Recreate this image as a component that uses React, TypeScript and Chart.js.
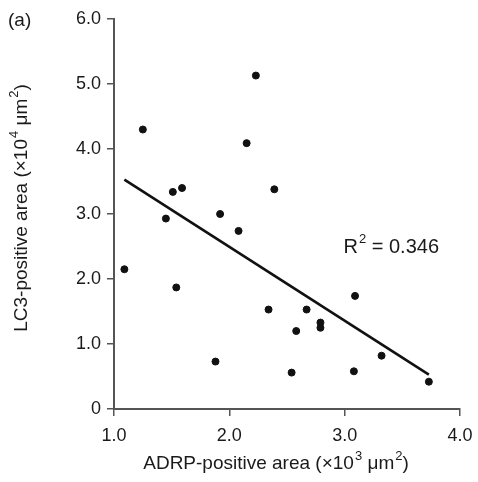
import React, { useEffect, useRef } from "react";
import { Chart, registerables } from "chart.js";

Chart.register(...registerables);

// ADRP-positive area (x10^3 µm²) vs LC3-positive area (x10^4 µm²)
const adrp = [1.09, 1.25, 1.45, 1.51, 1.59, 1.54, 1.88, 1.92, 2.08, 2.15, 2.23, 2.39, 2.34, 2.54, 2.58, 2.67, 2.79, 2.79, 3.08, 3.09, 3.32, 3.73];
const lc3 = [2.15, 4.30, 2.93, 3.34, 3.40, 1.87, 0.73, 3.00, 2.74, 4.09, 5.13, 3.38, 1.53, 0.56, 1.20, 1.53, 1.33, 1.25, 0.58, 1.74, 0.82, 0.42];

// regression line endpoints
const fitX = [1.09, 3.73];
const fitY = [3.53, 0.53];

const xTicks = [1.0, 2.0, 3.0, 4.0];
const yTicks = [0, 1.0, 2.0, 3.0, 4.0, 5.0, 6.0];
const r2Label = "0.346";
const panelLabel = "(a)";
const xTitle = [
  { t: "ADRP-positive area (×10", sup: false },
  { t: "3", sup: true },
  { t: " μm", sup: false },
  { t: "2", sup: true },
  { t: ")", sup: false },
];
const yTitle = [
  { t: "LC3-positive area (×10", sup: false },
  { t: "4", sup: true },
  { t: " μm", sup: false },
  { t: "2", sup: true },
  { t: ")", sup: false },
];

const FONT = "'Liberation Sans', Arial, sans-serif";

type Seg = { t: string; sup: boolean };

function richWidth(ctx: CanvasRenderingContext2D, segs: Seg[], base: number, sup: number) {
  let w = 0;
  for (const s of segs) {
    ctx.font = `${s.sup ? sup : base}px ${FONT}`;
    w += ctx.measureText(s.t).width + (s.sup ? 1 : 0);
  }
  return w;
}

function drawRich(ctx: CanvasRenderingContext2D, segs: Seg[], x: number, y: number, base: number, sup: number) {
  let cx = x;
  for (const s of segs) {
    ctx.font = `${s.sup ? sup : base}px ${FONT}`;
    ctx.fillText(s.t, cx + (s.sup ? 1 : 0), s.sup ? y - base * 0.38 : y);
    cx += ctx.measureText(s.t).width + (s.sup ? 1 : 0);
  }
}

export default function App() {
  const ref = useRef<HTMLCanvasElement | null>(null);

  useEffect(() => {
    document.body.style.margin = "0";
    const canvas = ref.current;
    if (!canvas) return;

    const annot = {
      id: "annot",
      afterDraw(chart: any) {
        const ctx = chart.ctx as CanvasRenderingContext2D;
        const xs = chart.scales.x;
        const ys = chart.scales.y;
        const area = chart.chartArea;
        ctx.save();
        ctx.fillStyle = "#1a1a1a";
        ctx.textBaseline = "middle";
        ctx.textAlign = "left";
        ctx.font = `19px ${FONT}`;
        ctx.fillText(panelLabel, 8, 21);

        // R² annotation
        const px = xs.getPixelForValue(2.99);
        const py = ys.getPixelForValue(2.49);
        drawRich(ctx, [
          { t: "R", sup: false },
          { t: "2", sup: true },
          { t: " = " + r2Label, sup: false },
        ], px, py, 20, 13);

        // x axis title
        const xw = richWidth(ctx, xTitle, 19, 13);
        const xc = (area.left + area.right) / 2 - 11;
        drawRich(ctx, xTitle, xc - xw / 2, 464, 19, 13);

        // y axis title (rotated)
        const yw = richWidth(ctx, yTitle, 19, 13);
        const yc = (area.top + area.bottom) / 2 - 6;
        ctx.translate(22, yc);
        ctx.rotate(-Math.PI / 2);
        drawRich(ctx, yTitle, -yw / 2, 0, 19, 13);
        ctx.restore();
      },
    };

    const chart = new Chart(canvas, {
      type: "scatter",
      data: {
        datasets: [
          {
            type: "scatter",
            data: adrp.map((x, i) => ({ x, y: lc3[i] })),
            backgroundColor: "#111",
            borderColor: "#111",
            pointRadius: 3.5,
            pointHoverRadius: 3.5,
          },
          {
            type: "line",
            data: fitX.map((x, i) => ({ x, y: fitY[i] })),
            borderColor: "#111",
            borderWidth: 2.6,
            pointRadius: 0,
            fill: false,
          } as any,
        ],
      },
      options: {
        animation: false,
        responsive: true,
        maintainAspectRatio: false,
        layout: { padding: { top: 19, right: 18, left: 0, bottom: 0 } },
        plugins: { legend: { display: false }, tooltip: { enabled: false } },
        scales: {
          x: {
            type: "linear",
            min: 1,
            max: 4,
            afterBuildTicks(scale: any) {
              scale.ticks = xTicks.map((v) => ({ value: v }));
            },
            afterFit(scale: any) {
              scale.height = 73;
              scale.paddingLeft = 0;
              scale.paddingRight = 0;
            },
            border: { display: true, color: "#555", width: 2 },
            grid: { display: true, drawOnChartArea: false, drawTicks: true, tickLength: 7, color: "#555", lineWidth: 1.5 },
            ticks: {
              color: "#1a1a1a",
              font: { family: FONT, size: 18 },
              padding: 9,
              maxRotation: 0,
              callback: (v: any) => Number(v).toFixed(1),
            },
            title: { display: false },
          },
          y: {
            type: "linear",
            min: 0,
            max: 6,
            afterBuildTicks(scale: any) {
              scale.ticks = yTicks.map((v) => ({ value: v }));
            },
            afterFit(scale: any) {
              scale.width = 114;
              scale.paddingTop = 0;
              scale.paddingBottom = 0;
            },
            border: { display: true, color: "#555", width: 2 },
            grid: { display: true, drawOnChartArea: false, drawTicks: true, tickLength: 7, color: "#555", lineWidth: 1.5 },
            ticks: {
              color: "#1a1a1a",
              font: { family: FONT, size: 18 },
              padding: 6,
              callback: (v: any) => (Number(v) === 0 ? "0" : Number(v).toFixed(1)),
            },
            title: { display: false },
          },
        },
      },
      plugins: [annot],
    } as any);

    return () => chart.destroy();
  }, []);

  return (
    <div style={{ position: "absolute", left: 0, top: 0, width: 478, height: 482 }}>
      <canvas ref={ref} />
    </div>
  );
}
